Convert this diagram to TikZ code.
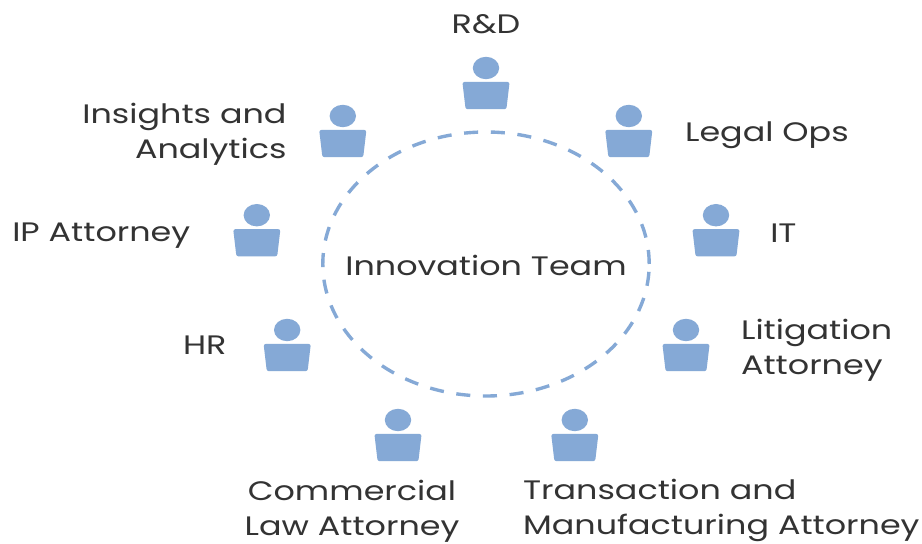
\documentclass[tikz,border=0pt]{standalone}
\usepackage{fontspec}
\setmainfont[FakeStretch=1.25]{Poppins}
\definecolor{personblue}{HTML}{85A9D6}
\definecolor{labelgray}{HTML}{333333}
\tikzset{
	lbl/.style={text=labelgray, font=\fontsize{19}{25}\selectfont, inner sep=0pt},
	person/.pic={
		\fill[personblue] (0,0) ellipse (0.33 and 0.28);
		\fill[personblue, rounded corners=1.5pt] (-0.59,-0.35) -- (0.59,-0.35) -- (0.51,-1.03) -- (-0.51,-1.03) -- cycle;
	}
}
\begin{document}
\begin{tikzpicture}[x=1cm,y=1cm]
	\useasboundingbox (0,0) rectangle (23.05,13.6);
	\fill[white] (0,0) rectangle (23.05,13.6);

	\draw[personblue, line width=2.4pt, dash pattern=on 10pt off 9pt] (12.15,7) ellipse (4.08 and 3.3);
	\node[lbl] (team) at (12.15,6.97) {Innovation Team};

	\path (12.15,11.9) pic {person};
	\path (8.57,10.7) pic {person};
	\path (15.72,10.7) pic {person};
	\path (6.42,8.22) pic {person};
	\path (17.9,8.22) pic {person};
	\path (7.18,5.35) pic {person};
	\path (17.15,5.35) pic {person};
	\path (9.95,3.1) pic {person};
	\path (14.37,3.1) pic {person};

	\node[lbl] (rd) at (12.15,13) {R\&D};
	\node[lbl, anchor=east, align=right] (insights) at (7.17,10.25) {Insights and\\Analytics};
	\node[lbl, anchor=west] (legal) at (17.12,10.23) {Legal Ops};
	\node[lbl, anchor=west] (ipatt) at (0.3,7.7) {IP Attorney};
	\node[lbl, anchor=west] (it) at (19.25,7.78) {IT};
	\node[lbl, anchor=west] (hr) at (4.57,4.97) {HR};
	\node[lbl, anchor=west, align=left] (lit) at (18.52,4.85) {Litigation\\Attorney};
	\node[lbl, anchor=south, align=center] (comm) at (8.8,0.04) {Commercial\\Law Attorney};
	\node[lbl, anchor=south west, align=left] (trans) at (13.07,0.04) {Transaction and\\Manufacturing Attorney};
\end{tikzpicture}
\end{document}
